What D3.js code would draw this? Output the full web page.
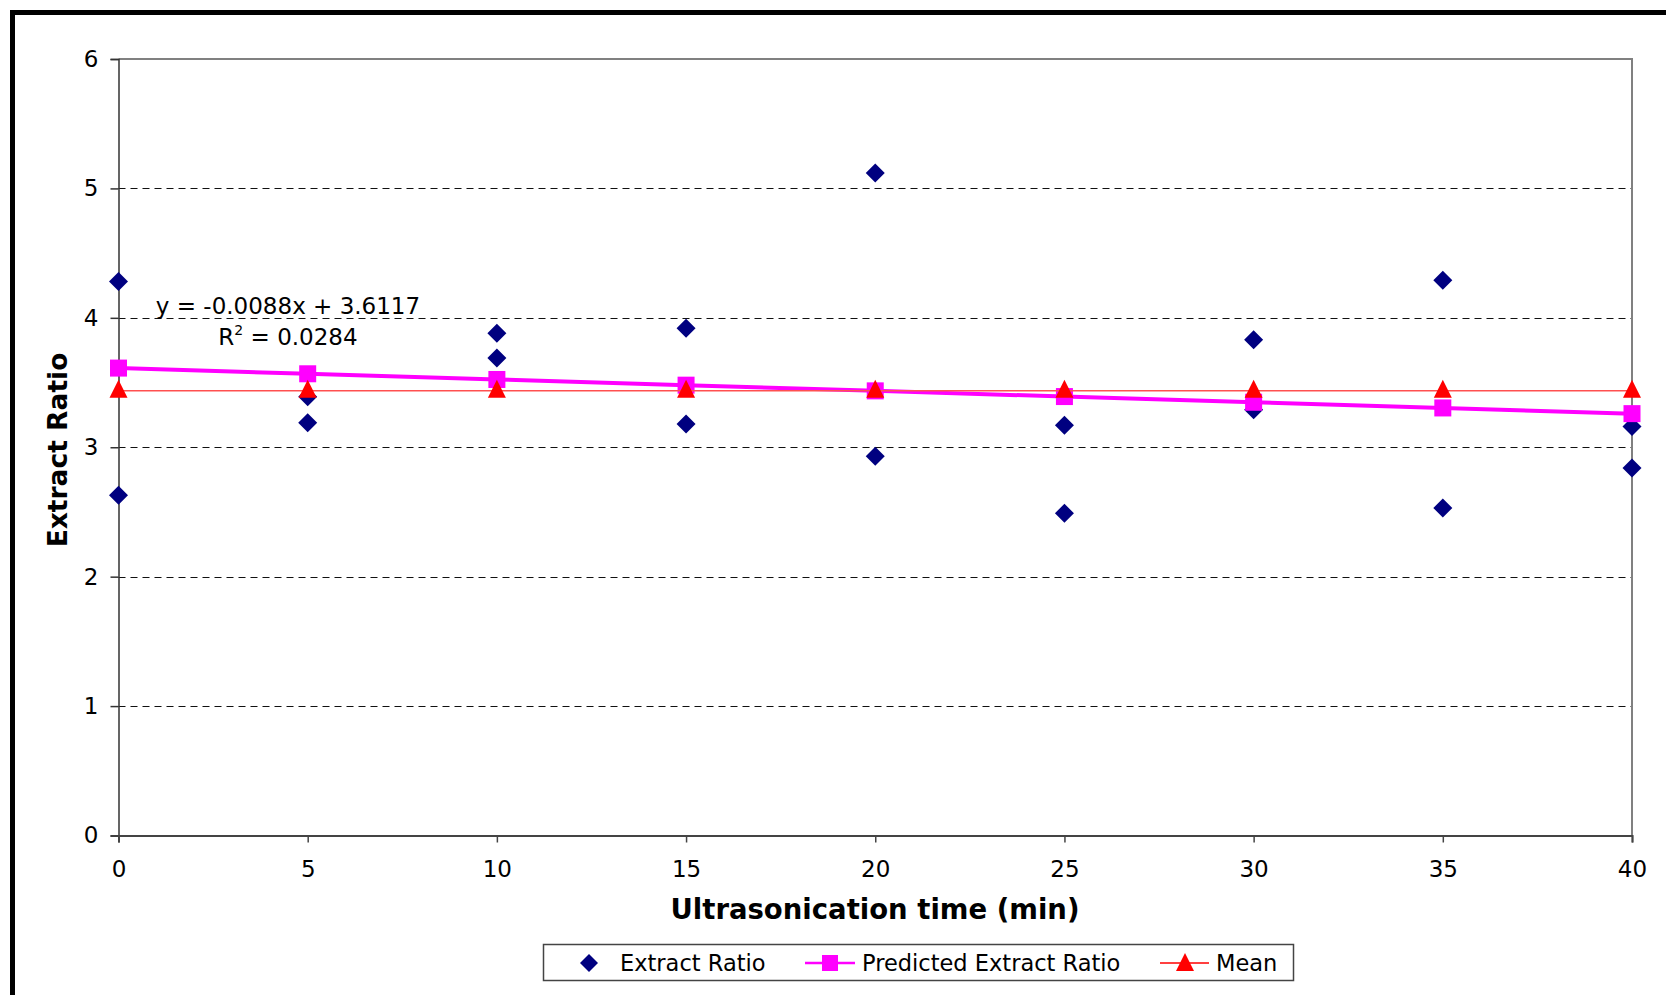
<!DOCTYPE html>
<html>
<head>
<meta charset="utf-8">
<script src="https://cdn.jsdelivr.net/npm/d3@7/dist/d3.min.js"></script>
<style>
  html, body { margin: 0; padding: 0; background: #fff; }
  svg { display: block; font-family: "DejaVu Sans", Verdana, sans-serif; }
</style>
</head>
<body>
<svg id="chart" width="1666" height="995"></svg>
<script>
// Ultrasonication time (min) for each measured sample
const sampleTime = [0, 0, 5, 5, 10, 10, 15, 15, 20, 20, 25, 25, 30, 30, 35, 35, 40, 40];
// Measured extract ratio for each sample
const extractRatio = [4.28, 2.63, 3.39, 3.19, 3.88, 3.69, 3.92, 3.18, 5.12, 2.93,
                      3.17, 2.49, 3.83, 3.29, 4.29, 2.53, 3.16, 2.84];

// Times at which the fitted and mean series are plotted
const times = [0, 5, 10, 15, 20, 25, 30, 35, 40];
// Predicted extract ratio from the linear fit y = -0.0088x + 3.6117
const predicted = [3.6117, 3.5677, 3.5237, 3.4797, 3.4357, 3.3917, 3.3477, 3.3037, 3.2597];
// Overall mean extract ratio
const meanRatio = [3.436, 3.436, 3.436, 3.436, 3.436, 3.436, 3.436, 3.436, 3.436];

const xTicks = [0, 5, 10, 15, 20, 25, 30, 35, 40];
const yTicks = [0, 1, 2, 3, 4, 5, 6];

const legendItems = ["Extract Ratio", "Predicted Extract Ratio", "Mean"];

const svg = d3.select("#chart");

// Outer frame (runs off the right and bottom edges)
svg.append("rect")
  .attr("x", 12.5).attr("y", 12.5)
  .attr("width", 2000).attr("height", 2000)
  .attr("fill", "none").attr("stroke", "#000").attr("stroke-width", 5);

const x = d3.scaleLinear().domain([0, 40]).range([118.5, 1632]);
const y = d3.scaleLinear().domain([0, 6]).range([835.5, 59]);

// Dashed horizontal gridlines
svg.append("g")
  .selectAll("line")
  .data(yTicks.filter(v => v > 0 && v < 6))
  .join("line")
  .attr("x1", x(0)).attr("x2", x(40))
  .attr("y1", d => Math.round(y(d)) + 0.5).attr("y2", d => Math.round(y(d)) + 0.5)
  .attr("stroke", "#111").attr("stroke-width", 1.2)
  .attr("stroke-dasharray", "7,5");

// Top and right plot-area border
svg.append("path")
  .attr("d", `M${x(0)},${y(6)}H${x(40)}V${y(0)}`)
  .attr("fill", "none").attr("stroke", "#808080").attr("stroke-width", 2);

// Y axis
const yAxis = svg.append("g")
  .attr("transform", `translate(${x(0)},0)`)
  .call(d3.axisLeft(y).tickValues(yTicks).tickSize(8).tickPadding(12).tickFormat(d3.format("d")));
yAxis.select(".domain").attr("stroke", "#333").attr("stroke-width", 1.5);
yAxis.selectAll(".tick line").attr("stroke", "#333").attr("stroke-width", 1.5);
yAxis.selectAll(".tick text")
  .attr("font-size", 23).attr("fill", "#000")
  .attr("font-family", "DejaVu Sans, Verdana, sans-serif");

// X axis
const xAxis = svg.append("g")
  .attr("transform", `translate(0,${y(0)})`)
  .call(d3.axisBottom(x).tickValues(xTicks).tickSize(7).tickPadding(18).tickFormat(d3.format("d")));
xAxis.select(".domain").attr("stroke", "#444").attr("stroke-width", 2);
xAxis.selectAll(".tick line").attr("stroke", "#444").attr("stroke-width", 1.5);
xAxis.selectAll(".tick text")
  .attr("font-size", 23).attr("fill", "#000")
  .attr("font-family", "DejaVu Sans, Verdana, sans-serif");

// Axis titles
svg.append("text")
  .attr("x", 875).attr("y", 919)
  .attr("text-anchor", "middle")
  .attr("font-size", 27.5).attr("font-weight", "bold")
  .text("Ultrasonication time (min)");

svg.append("text")
  .attr("transform", "translate(67,450) rotate(-90)")
  .attr("text-anchor", "middle")
  .attr("font-size", 26.5).attr("font-weight", "bold")
  .text("Extract Ratio");

// Marker shapes
const diamondPath = (cx, cy, r) => `M${cx},${cy - r}L${cx + r},${cy}L${cx},${cy + r}L${cx - r},${cy}Z`;
const squareSize = 17;
const trianglePath = (cx, cy) => `M${cx},${cy - 11}L${cx + 9},${cy + 7}L${cx - 9},${cy + 7}Z`;

// Measured points
svg.append("g")
  .selectAll("path")
  .data(extractRatio)
  .join("path")
  .attr("d", (d, i) => diamondPath(x(sampleTime[i]), y(d), 9.5))
  .attr("fill", "#000080");

// Predicted series: line and square markers
const predLine = d3.line().x((d, i) => x(times[i])).y(d => y(d));
svg.append("path")
  .datum(predicted)
  .attr("d", predLine)
  .attr("fill", "none").attr("stroke", "#ff00ff").attr("stroke-width", 4);
svg.append("g")
  .selectAll("rect")
  .data(predicted)
  .join("rect")
  .attr("x", (d, i) => x(times[i]) - squareSize / 2)
  .attr("y", d => y(d) - squareSize / 2)
  .attr("width", squareSize).attr("height", squareSize)
  .attr("fill", "#ff00ff");

// Mean series: line and triangle markers
const meanLine = d3.line().x((d, i) => x(times[i])).y(d => y(d));
svg.append("path")
  .datum(meanRatio)
  .attr("d", meanLine)
  .attr("fill", "none").attr("stroke", "#ff5050").attr("stroke-width", 1.5);
svg.append("g")
  .selectAll("path")
  .data(meanRatio)
  .join("path")
  .attr("d", (d, i) => trianglePath(x(times[i]), y(d)))
  .attr("fill", "#ff0000");

// Trendline equation and R²
const eq = svg.append("g").attr("font-size", 23).attr("text-anchor", "middle");
eq.append("text").attr("x", 288).attr("y", 314).text("y = -0.0088x + 3.6117");
const r2 = eq.append("text").attr("x", 288).attr("y", 345);
r2.append("tspan").text("R");
r2.append("tspan").attr("font-size", 14).attr("dy", -10).text("2");
r2.append("tspan").attr("dy", 10).text(" = 0.0284");

// Legend
const legend = svg.append("g");
legend.append("rect")
  .attr("x", 543.5).attr("y", 944.5)
  .attr("width", 750).attr("height", 36)
  .attr("fill", "#fff").attr("stroke", "#444").attr("stroke-width", 1.5);

const ly = 963;
const legendX = [589, 830, 1185];
const textX = [620, 862, 1216];

legend.append("path").attr("d", diamondPath(legendX[0], ly, 9)).attr("fill", "#000080");

legend.append("line").attr("x1", 805).attr("x2", 855).attr("y1", ly).attr("y2", ly)
  .attr("stroke", "#ff00ff").attr("stroke-width", 2.5);
legend.append("rect").attr("x", legendX[1] - 8).attr("y", ly - 8).attr("width", 16).attr("height", 16)
  .attr("fill", "#ff00ff");

legend.append("line").attr("x1", 1160).attr("x2", 1209).attr("y1", ly).attr("y2", ly)
  .attr("stroke", "#ff0000").attr("stroke-width", 1.5);
legend.append("path").attr("d", trianglePath(legendX[2], ly + 1)).attr("fill", "#ff0000");

legend.selectAll("text.item")
  .data(legendItems)
  .join("text")
  .attr("class", "item")
  .attr("x", (d, i) => textX[i]).attr("y", 971)
  .attr("font-size", 22.5)
  .text(d => d);
</script>
</body>
</html>
